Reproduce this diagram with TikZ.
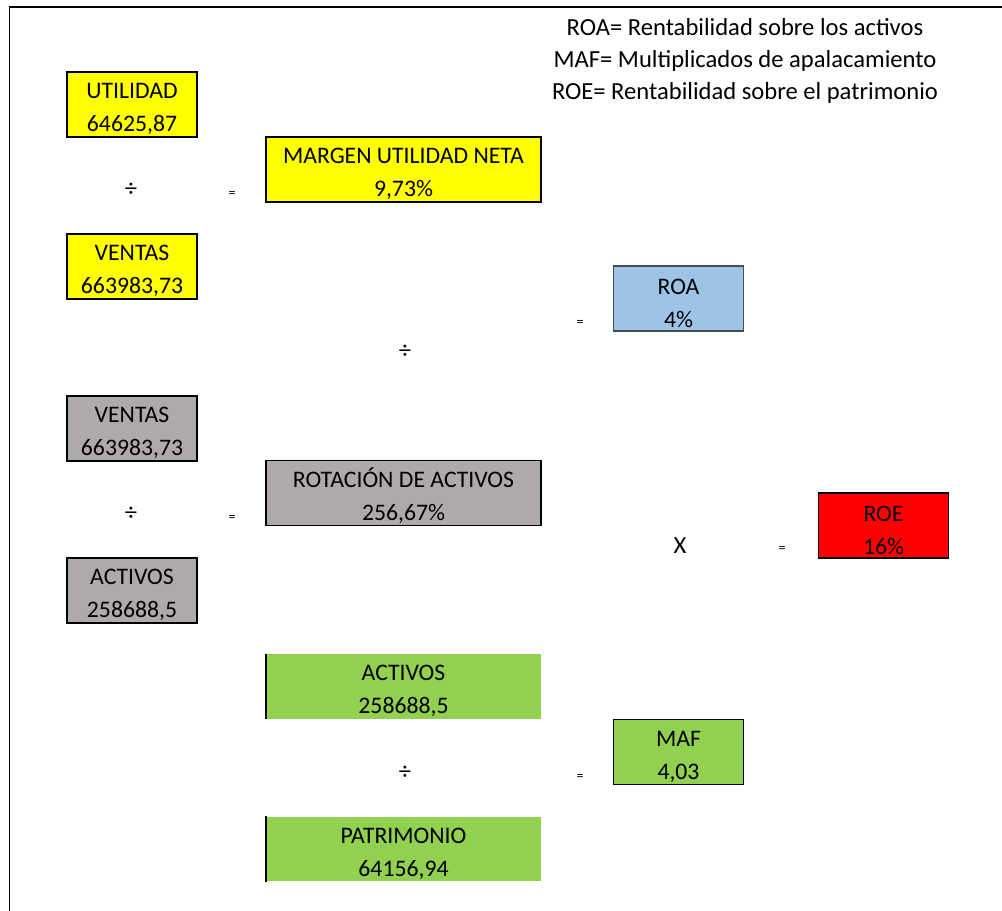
\documentclass[tikz,border=0pt]{standalone}
\usepackage{fontspec}
\setmainfont{Carlito}

\definecolor{amarillo}{HTML}{FFFF00}
\definecolor{gris}{HTML}{AEAAAA}
\definecolor{azul}{HTML}{9DC3E6}
\definecolor{rojo}{HTML}{FF0000}
\definecolor{verde}{HTML}{92D050}

% nombre y valor de una celda
\newcommand{\dato}[2]{\rule{0pt}{14pt}#1\\#2}

\begin{document}
\begin{tikzpicture}[x=0.02cm,y=-0.02cm,
	celda/.style={minimum width=2.6cm,minimum height=1.3cm,inner sep=0pt,
		align=center,font=\fontsize{13.5}{19}\selectfont},
	ancha/.style={celda,minimum width=5.5cm},
	borde/.style={draw=black,line width=1pt},
	signo/.style={font=\fontsize{14}{16}\selectfont},
	igual/.style={font=\fontsize{8}{10}\selectfont}]
	
	\useasboundingbox (0,0) rectangle (1002,911);
	\draw[line width=1pt] (9.5,911) -- (9.5,7) -- (1002,7);
	
	\node[align=center,font=\fontsize{14}{18.2}\selectfont]
	(Leyenda) at (745,61) {ROA= Rentabilidad sobre los activos\\
		MAF= Multiplicados de apalacamiento\\
		ROE= Rentabilidad sobre el patrimonio};
	
	% margen de utilidad neta
	\node[celda,borde,fill=amarillo]
	(Util) at (132,104.5) {\dato{UTILIDAD}{64625,87}};
	\node[signo] (Div-MUN) at (131,190) {÷};
	\node[igual] (Eq-MUN) at (232,194) {=};
	\node[celda,borde,fill=amarillo]
	(Ventas-MUN) at (132,266.5) {\dato{VENTAS}{663983,73}};
	\node[ancha,borde,fill=amarillo]
	(MUN) at (403.5,169.5) {\dato{MARGEN UTILIDAD NETA}{9,73\%}};
	
	% rotacion de activos
	\node[celda,borde,fill=gris]
	(Ventas-ROT) at (132,428.5) {\dato{VENTAS}{663983,73}};
	\node[signo] (Div-ROT) at (131,514) {÷};
	\node[igual] (Eq-ROT) at (232,518) {=};
	\node[celda,borde,fill=gris]
	(Activos-ROT) at (132,590.5) {\dato{ACTIVOS}{258688,5}};
	\node[ancha,borde,fill=gris]
	(ROT) at (403.5,493) {\dato{ROTACIÓN DE ACTIVOS}{256,67\%}};
	
	% ROA
	\node[signo] (Div-ROA) at (405,352) {÷};
	\node[igual] (Eq-ROA) at (580,323) {=};
	\node[celda,draw=black!70,line width=0.8pt,fill=azul]
	(ROA) at (678.5,298.5) {\dato{ROA}{4\%}};
	
	% multiplicador
	\node[ancha,fill=verde]
	(Activos-MAF) at (403.5,686.5) {\dato{ACTIVOS}{258688,5}};
	\draw[line width=1pt] (Activos-MAF.north west) -- (Activos-MAF.south west);
	\node[signo] (Div-MAF) at (405,773) {÷};
	\node[igual] (Eq-MAF) at (580,777) {=};
	\node[ancha,fill=verde]
	(Patr) at (403.5,849) {\dato{PATRIMONIO}{64156,94}};
	\draw[line width=1pt] (Patr.north west) -- (Patr.south west);
	\node[celda,borde,fill=verde]
	(MAF) at (678.5,752) {\dato{MAF}{4,03}};
	
	% ROE
	\node[signo] (Por-ROE) at (680,546) {X};
	\node[igual] (Eq-ROE) at (782,549) {=};
	\node[celda,borde,fill=rojo]
	(ROE) at (883.5,525.5) {\dato{ROE}{16\%}};
	
\end{tikzpicture}
\end{document}
